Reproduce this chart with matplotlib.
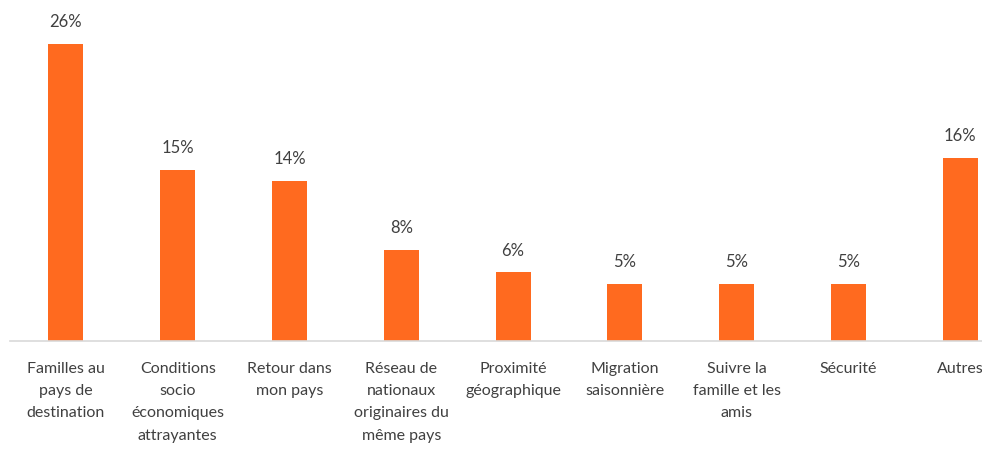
import matplotlib
matplotlib.use("Agg")
import matplotlib.pyplot as plt

categories = ["Familles au\npays de\ndestination", "Conditions\nsocio\néconomiques\nattrayantes",
              "Retour dans\nmon pays", "Réseau de\nnationaux\noriginaires du\nmême pays",
              "Proximité\ngéographique", "Migration\nsaisonnière", "Suivre la\nfamille et les\namis",
              "Sécurité", "Autres"]
values = [26, 15, 14, 8, 6, 5, 5, 5, 16]
value_labels = ["26%", "15%", "14%", "8%", "6%", "5%", "5%", "5%", "16%"]

plt.rcParams['font.family'] = ['Lato', 'DejaVu Sans']

W, H = 982, 449
fig = plt.figure(figsize=(W/100, H/100), dpi=100)
left, right, base, top = 10, 982, 341, 20
ax = fig.add_axes([left/W, (H-base)/H, (right-left)/W, (base-top)/H])

step = 111.8
x = list(range(len(values)))
ax.bar(x, values, width=35/step, color="#FF6A1F")
ax.set_xlim(-0.5, -0.5 + (right-left)/step)
ax.set_ylim(0, 26 * (base-top)/(base-44))

for xi, v, lab in zip(x, values, value_labels):
    ax.annotate(lab, (xi, v), xytext=(0, 10), textcoords="offset points",
                ha="center", va="bottom", fontsize=12, color="#404040")

for s in ["top", "right", "left"]:
    ax.spines[s].set_visible(False)
ax.spines["bottom"].set_color("#D9D9D9")
ax.spines["bottom"].set_linewidth(1.2)
ax.set_yticks([])
ax.set_xticks(x)
ax.set_xticklabels(categories, fontsize=11.5, color="#404040", linespacing=1.75)
ax.tick_params(axis="x", length=0, pad=15)

fig.savefig("out.png", dpi=100)
